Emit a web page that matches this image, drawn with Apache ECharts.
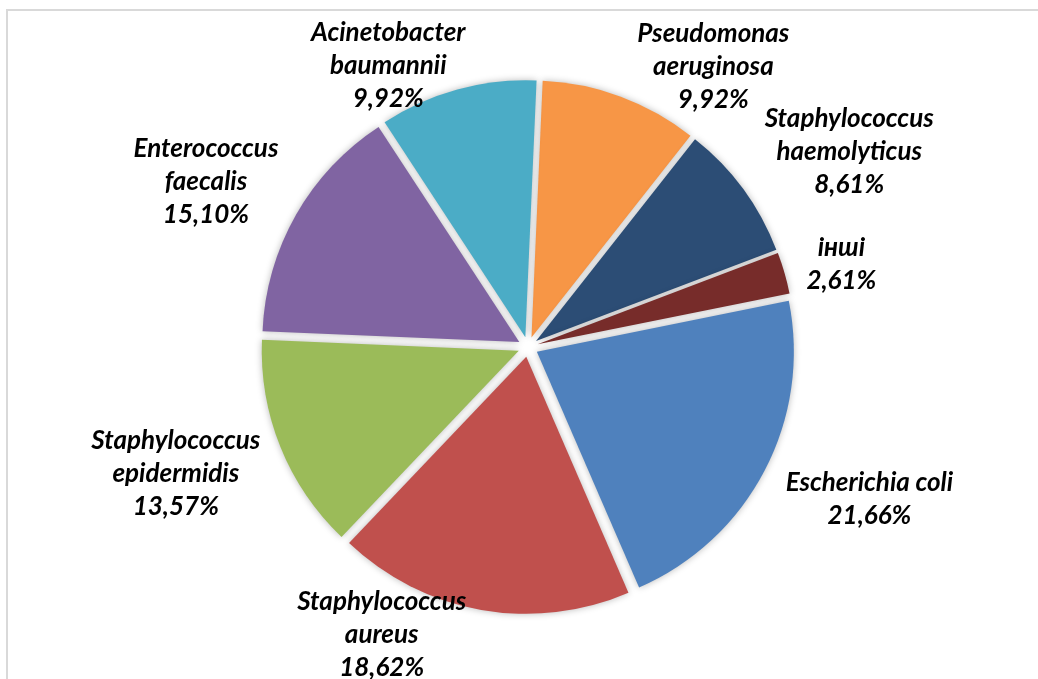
<!DOCTYPE html>
<html>
<head>
<meta charset="utf-8">
<script src="https://cdn.jsdelivr.net/npm/echarts@6/dist/echarts.min.js"></script>
<style>
  html, body { margin: 0; padding: 0; background: #ffffff; }
  #chart { width: 1038px; height: 679px; }
</style>
</head>
<body>
<div id="chart"></div>
<script>
// Species (display names, wrapped onto lines) and their share of isolates, %
const species = [
  'Pseudomonas\naeruginosa',
  'Staphylococcus\nhaemolyticus',
  'інші',
  'Escherichia coli',
  'Staphylococcus\naureus',
  'Staphylococcus\nepidermidis',
  'Enterococcus\nfaecalis',
  'Acinetobacter\nbaumannii'
];
const shares = [9.92, 8.61, 2.61, 21.66, 18.62, 13.57, 15.10, 9.92];
const sliceColors = ['#F79646', '#2C4D75', '#772C2A', '#4F81BD', '#C0504D', '#9BBB59', '#8064A2', '#4BACC6'];

// Pie geometry: centre, radius, first-slice angle (deg clockwise from 12 o'clock)
// and how far each slice is pulled out along its bisector
const CX = 528, CY = 347, RADIUS = 257, FIRST_ANGLE = 2.5, EXPLODE = 10;

// Label placement: angular nudge (deg) from each slice's bisector and the ring the label box rests on
const labelTurn = [13.1, 5.0, 1.2, -3.5, 16.9, 2.2, -2.4, -11.1];
const labelRing = [253, 278, 282, 284, 240, 278, 275, 235];

const total = shares.reduce((a, b) => a + b, 0);
const startShare = [];
shares.reduce((acc, v, i) => { startShare[i] = acc; return acc + v; }, 0);

function fmtPct(v) {
  return v.toFixed(2).replace('.', ',') + '%';
}

// unit vector (screen coords) for an angle measured clockwise from 12 o'clock
function dirOf(deg) {
  const a = deg * Math.PI / 180;
  return [Math.sin(a), -Math.cos(a)];
}

// Each slice is its own pie series whose centre is shifted outward (exploded pie);
// the rest of that circle is an invisible filler slice.
const series = species.map((name, i) => {
  const startDeg = FIRST_ANGLE + startShare[i] / total * 360;
  const midDeg = FIRST_ANGLE + (startShare[i] + shares[i] / 2) / total * 360;
  const [ux, uy] = dirOf(midDeg);
  return {
    type: 'pie',
    name: name,
    center: [CX + ux * EXPLODE, CY + uy * EXPLODE],
    radius: [0, RADIUS],
    startAngle: 90 - startDeg,
    clockwise: true,
    avoidLabelOverlap: false,
    emphasis: { disabled: true },
    silent: true,
    itemStyle: {
      borderWidth: 0,
      shadowBlur: 7,
      shadowColor: 'rgba(0,0,0,0.28)'
    },
    label: {
      show: true,
      position: 'outside',
      formatter: p => p.name + '\n' + fmtPct(p.value),
      fontFamily: 'Lato, "Open Sans", sans-serif',
      fontStyle: 'italic',
      fontWeight: 'bold',
      fontSize: 26,
      lineHeight: 33,
      color: '#000000'
    },
    labelLine: { show: false },
    labelLayout: function (p) {
      if (p.dataIndex !== 0) return {};
      const [lx, ly] = dirOf(midDeg + labelTurn[i]);
      const hw = p.labelRect.width / 2, hh = p.labelRect.height / 2;
      const dist = labelRing[i] + Math.abs(lx) * hw + Math.abs(ly) * hh;
      return {
        x: CX + lx * dist,
        y: CY + ly * dist,
        align: 'center',
        verticalAlign: 'middle'
      };
    },
    data: [
      { name: name, value: shares[i], itemStyle: { color: sliceColors[i] } },
      {
        name: '',
        value: total - shares[i],
        itemStyle: { color: 'rgba(0,0,0,0)', shadowBlur: 0, shadowColor: 'rgba(0,0,0,0)' },
        label: { show: false }
      }
    ]
  };
});

const chart = echarts.init(document.getElementById('chart'), null, { renderer: 'canvas' });

chart.setOption({
  backgroundColor: '#ffffff',
  animation: false,
  graphic: [{
    type: 'rect',
    z: -1,
    silent: true,
    shape: { x: 7, y: 10, width: 1200, height: 900 },
    style: { fill: 'none', stroke: '#d9d9d9', lineWidth: 2 }
  }],
  series: series
});
</script>
</body>
</html>
